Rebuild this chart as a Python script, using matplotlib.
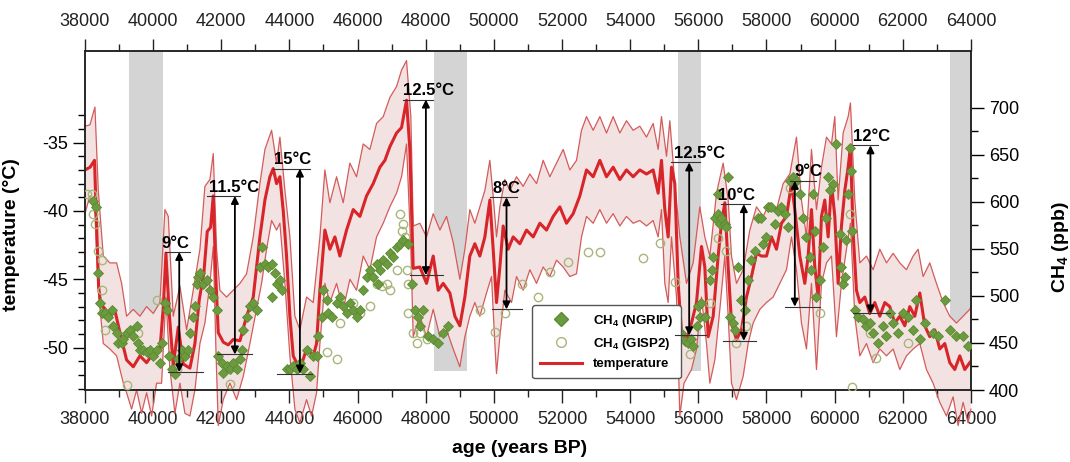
import matplotlib.pyplot as plt
from matplotlib.lines import Line2D
from matplotlib.ticker import MultipleLocator, FixedLocator

plt.rcParams['font.family'] = ['Liberation Sans', 'DejaVu Sans']
plt.rcParams['mathtext.fontset'] = 'custom'
plt.rcParams['mathtext.rm'] = 'Liberation Sans'
plt.rcParams['mathtext.bf'] = 'Liberation Sans:bold'
plt.rcParams['axes.unicode_minus'] = False

# temperature reconstruction (thick red)
temp_age = [38000, 38150, 38280, 38340, 38400, 38460, 38600, 38733, 38880, 39027,
            39222, 39418, 39613, 39809, 40005, 40200, 40300, 40376, 40474, 40591,
            40738, 40885, 41080, 41227, 41354, 41491, 41589, 41687, 41765, 41843,
            41912, 42059, 42205, 42352, 42548, 42743, 42939, 43134, 43281, 43427,
            43525, 43623, 43721, 43819, 43916, 44014, 44112, 44308, 44503, 44699,
            44797, 44895, 45041, 45188, 45335, 45481, 45677, 45873, 46068, 46264,
            46459, 46655, 46802, 46948, 47144, 47291, 47437, 47535, 47633, 47829,
            48024, 48220, 48367, 48513, 48709, 48855, 49002, 49149, 49295, 49442,
            49589, 49736, 49882, 49980, 50078, 50176, 50273, 50420, 50567, 50763,
            50958, 51154, 51350, 51545, 51741, 51936, 52132, 52327, 52523, 52719,
            52914, 53110, 53305, 53501, 53697, 53892, 54088, 54283, 54479, 54674,
            54821, 54919, 55017, 55115, 55213, 55310, 55409, 55507, 55653, 55800,
            55947, 56093, 56191, 56289, 56436, 56582, 56680, 56778, 56876, 56974,
            57120, 57267, 57414, 57560, 57707, 57854, 58001, 58147, 58294, 58441,
            58587, 58734, 58832, 58979, 59125, 59223, 59321, 59419, 59517, 59614,
            59712, 59810, 59908, 60005, 60103, 60201, 60299, 60397, 60465, 60543,
            60641, 60739, 60886, 61032, 61179, 61326, 61473, 61619, 61766, 61913,
            62059, 62206, 62353, 62500, 62646, 62793, 62940, 63086, 63233, 63380,
            63526, 63673, 63819, 63966, 64000]
temp_val = [-37.0, -36.8, -36.3, -41.0, -45.5, -46.8, -47.2, -47.7, -47.3, -48.9,
            -50.9, -51.4, -50.6, -51.1, -50.4, -50.2, -47.0, -43.1, -47.5, -51.3,
            -48.5, -51.2, -51.5, -49.7, -46.5, -44.5, -41.5, -41.2, -38.9, -45.0,
            -48.9, -49.6, -49.8, -49.4, -49.5, -47.7, -46.3, -41.9, -39.2, -37.5,
            -36.9, -38.0, -37.5, -40.0, -43.3, -47.7, -50.6, -51.6, -50.1, -50.6,
            -49.7, -45.8, -41.4, -42.8, -41.9, -43.3, -41.4, -39.9, -40.4, -38.9,
            -38.0, -36.8, -36.3, -35.3, -34.3, -33.9, -31.9, -35.5, -44.2, -44.1,
            -45.3, -43.3, -45.8, -45.3, -46.0, -47.7, -48.4, -46.3, -43.3, -42.4,
            -43.3, -41.9, -39.2, -42.8, -46.7, -44.1, -41.1, -42.8, -41.9, -42.4,
            -41.4, -41.9, -40.9, -41.4, -40.4, -39.7, -40.9, -40.2, -38.9, -37.0,
            -37.5, -36.3, -37.5, -36.8, -37.7, -37.0, -37.5, -37.0, -37.3, -37.0,
            -38.7, -36.3, -39.9, -41.9, -36.8, -38.0, -45.3, -48.9, -49.4, -48.2,
            -46.7, -42.6, -44.1, -49.2, -47.7, -43.3, -40.9, -39.4, -44.1, -48.2,
            -49.4, -48.7, -46.3, -44.8, -43.1, -43.3, -43.3, -41.9, -42.8, -40.9,
            -40.4, -38.0, -39.9, -43.3, -45.3, -43.3, -39.9, -44.1, -46.3, -40.4,
            -39.2, -41.9, -38.0, -40.4, -45.3, -41.1, -38.5, -36.8, -35.3, -41.6,
            -45.8, -46.7, -46.3, -47.5, -46.7, -47.7, -46.7, -47.0, -48.2, -47.7,
            -48.4, -47.0, -47.7, -46.0, -48.4, -49.2, -48.7, -50.1, -49.7, -51.1,
            -51.6, -50.6, -51.6, -51.1, -51.0]

# uncertainty envelope
upper_age = [38000, 38146, 38293, 38391, 38538, 38733, 38929, 39076, 39222, 39418,
             39613, 39809, 40005, 40200, 40347, 40445, 40591, 40787, 40983, 41178,
             41374, 41520, 41667, 41765, 41863, 41960, 42156, 42352, 42548, 42743,
             42939, 43134, 43281, 43477, 43623, 43721, 43868, 44014, 44161, 44308,
             44503, 44699, 44895, 45041, 45188, 45384, 45579, 45775, 45970, 46166,
             46362, 46557, 46753, 46948, 47144, 47291, 47437, 47564, 47633, 47829,
             48024, 48220, 48416, 48611, 48807, 49002, 49149, 49295, 49442, 49589,
             49736, 49882, 49980, 50078, 50176, 50323, 50469, 50665, 50860, 51056,
             51252, 51447, 51643, 51839, 52034, 52229, 52425, 52572, 52719, 52914,
             53110, 53305, 53501, 53697, 53892, 54088, 54283, 54479, 54674, 54821,
             54919, 55067, 55164, 55311, 55458, 55653, 55849, 56044, 56191, 56338,
             56534, 56729, 56876, 56974, 57120, 57316, 57511, 57707, 57903, 58098,
             58294, 58490, 58685, 58881, 59027, 59174, 59321, 59468, 59614, 59761,
             59908, 60005, 60103, 60250, 60397, 60465, 60592, 60739, 60935, 61130,
             61326, 61522, 61717, 61913, 62108, 62304, 62450, 62597, 62793, 62988,
             63184, 63380, 63575, 63771, 63966, 64000]
upper_val = [-33.8, -33.7, -32.4, -38.5, -43.3, -43.8, -43.8, -45.3, -47.7, -47.2,
             -47.7, -47.0, -47.5, -46.7, -39.9, -40.4, -47.7, -45.5, -48.7, -45.8,
             -42.8, -38.2, -37.7, -35.8, -42.8, -45.8, -46.3, -45.8, -45.3, -44.6,
             -41.9, -38.0, -35.5, -34.1, -36.5, -34.6, -38.5, -41.9, -47.7, -48.7,
             -46.3, -46.7, -41.9, -37.0, -39.4, -37.5, -39.4, -36.5, -37.5, -35.1,
             -35.5, -33.6, -33.1, -31.7, -30.9, -29.7, -29.0, -33.1, -41.1, -40.9,
             -41.9, -40.2, -41.4, -40.4, -42.3, -45.0, -42.8, -39.9, -40.9, -39.7,
             -38.5, -36.3, -38.9, -41.9, -39.7, -37.7, -38.5, -37.5, -38.2, -37.3,
             -38.0, -36.3, -37.5, -36.5, -35.5, -37.0, -36.3, -34.1, -33.1, -34.1,
             -33.1, -34.3, -33.1, -34.3, -33.4, -34.1, -33.8, -34.6, -33.6, -35.5,
             -33.1, -36.0, -33.4, -38.0, -41.9, -45.3, -43.8, -39.7, -41.9, -43.3,
             -38.7, -36.5, -39.2, -43.3, -45.3, -44.3, -41.4, -39.7, -40.4, -39.4,
             -39.9, -38.0, -37.3, -34.6, -39.2, -41.9, -35.5, -39.9, -36.8, -34.6,
             -35.1, -33.1, -39.2, -34.3, -33.1, -32.1, -39.2, -43.8, -43.3, -44.3,
             -42.8, -43.8, -43.1, -43.8, -44.3, -43.3, -42.8, -44.8, -43.8, -45.3,
             -46.7, -47.7, -48.2, -47.7, -47.2, -47.0]
lower_age = [38000, 38146, 38293, 38391, 38538, 38733, 38929, 39125, 39222, 39369,
             39516, 39662, 39809, 39956, 40102, 40249, 40376, 40494, 40640, 40787,
             40934, 41080, 41227, 41374, 41520, 41667, 41765, 41843, 41912, 42059,
             42254, 42450, 42645, 42841, 43036, 43183, 43330, 43477, 43623, 43721,
             43868, 44014, 44161, 44308, 44503, 44650, 44797, 44895, 45041, 45188,
             45384, 45579, 45775, 45970, 46166, 46362, 46557, 46753, 46948, 47144,
             47291, 47437, 47564, 47633, 47829, 48024, 48220, 48416, 48611, 48807,
             49002, 49149, 49295, 49442, 49589, 49785, 49931, 50029, 50078, 50176,
             50323, 50518, 50665, 50860, 51056, 51252, 51447, 51643, 51839, 52034,
             52229, 52425, 52572, 52719, 52914, 53110, 53305, 53501, 53697, 53892,
             54088, 54283, 54479, 54674, 54821, 54919, 55017, 55115, 55213, 55360,
             55458, 55580, 55800, 55947, 56093, 56240, 56338, 56485, 56632, 56778,
             56876, 56974, 57120, 57316, 57463, 57609, 57805, 58001, 58196, 58392,
             58587, 58734, 58881, 59027, 59174, 59321, 59468, 59614, 59761, 59908,
             60054, 60201, 60348, 60465, 60592, 60739, 60935, 61130, 61326, 61522,
             61717, 61913, 62108, 62304, 62500, 62695, 62890, 63086, 63282, 63477,
             63624, 63771, 63917, 64000]
lower_val = [-40.2, -38.9, -40.2, -45.8, -49.7, -50.1, -50.6, -52.6, -53.3, -54.5,
             -53.1, -54.8, -53.3, -55.0, -52.6, -52.6, -46.3, -51.6, -54.8, -52.6,
             -54.8, -55.0, -53.1, -49.7, -48.2, -45.3, -42.6, -50.1, -55.7, -53.8,
             -52.6, -53.8, -52.1, -49.7, -47.2, -45.3, -42.8, -40.7, -41.4, -40.9,
             -45.3, -50.6, -54.5, -55.5, -53.8, -55.0, -53.3, -49.7, -45.3, -46.7,
             -45.3, -47.2, -45.0, -45.8, -43.3, -44.3, -41.9, -40.9, -39.7, -38.7,
             -37.5, -35.1, -42.8, -49.2, -47.7, -49.2, -47.2, -49.2, -48.7, -50.1,
             -51.4, -49.2, -47.7, -46.7, -47.7, -46.0, -44.8, -49.7, -51.9, -49.2,
             -45.8, -46.7, -44.8, -45.8, -44.3, -45.3, -44.1, -44.8, -43.6, -44.1,
             -44.8, -44.6, -41.9, -40.4, -40.9, -39.9, -40.9, -40.2, -41.1, -40.4,
             -40.9, -40.7, -41.1, -40.7, -41.9, -39.9, -45.3, -46.7, -41.9, -46.3,
             -55.0, -52.6, -51.6, -50.1, -46.3, -49.7, -52.6, -50.9, -47.2, -43.3,
             -47.7, -52.6, -53.8, -52.1, -49.7, -48.2, -47.2, -46.7, -46.3, -45.3,
             -44.3, -41.9, -44.3, -48.2, -50.1, -45.3, -51.6, -45.3, -43.8, -43.3,
             -49.2, -45.3, -42.8, -40.9, -47.7, -50.6, -49.7, -51.1, -50.1, -50.6,
             -50.1, -51.6, -50.6, -50.1, -49.7, -51.6, -52.6, -54.0, -55.0, -53.6,
             -55.7, -54.0, -55.5, -54.5]

# CH4 NGRIP (filled diamonds)
ngrip_age = [38244, 38322, 38391, 38440, 38489, 38587, 38684, 38782, 38831, 38929,
             38978, 39076, 39125, 39222, 39320, 39418, 39516, 39564, 39613, 39711,
             39809, 39907, 40005, 40102, 40200, 40249, 40347, 40415, 40474, 40542,
             40640, 40738, 40836, 40934, 41032, 41080, 41178, 41227, 41276, 41325,
             41374, 41471, 41569, 41667, 41765, 41863, 41912, 42010, 42059, 42156,
             42254, 42352, 42450, 42548, 42597, 42645, 42743, 42841, 42939, 43036,
             43134, 43183, 43281, 43380, 43477, 43575, 43623, 43721, 43770, 43477,
             43916, 44014, 44112, 44210, 44308, 44406, 44503, 44601, 44699, 44797,
             44846, 44944, 44993, 45090, 45139, 45237, 45384, 45481, 45579, 45677,
             45775, 45873, 45970, 46068, 46166, 46264, 46362, 46459, 46557, 46606,
             46655, 46753, 46851, 46948, 47046, 47144, 47242, 47340, 47486, 47584,
             47682, 47780, 47829, 47926, 48073, 48220, 48366, 48513, 48660,
             55458, 55506, 55605, 55702, 55800, 55849, 55947, 55996, 56045, 56093,
             56191, 56338, 56387, 56436, 56485, 56582, 56582, 56632, 56680, 56778,
             56827, 56876, 56925, 57022, 57071, 57169, 57267, 57365, 57463, 57560,
             57658, 57756, 57854, 57903, 58001, 58049, 58147, 58245, 58343, 58441,
             58538, 58636, 58685, 58783, 58881, 58979, 59076, 59174, 59272, 59321,
             59370, 59419, 59468, 59565, 59663, 59761, 59810, 59858, 59956, 60054,
             60152, 60201, 60250, 60299, 60348, 60397, 60446, 60494, 60524, 60592,
             60690, 60837, 60935, 61032, 61130, 61277, 61424, 61522, 61619, 61717,
             61864, 62010, 62157, 62304, 62401, 62500, 62646, 62890, 63037, 63233,
             63380, 63575, 63771, 63917]
ngrip_ch4 = [601, 594, 524, 492, 482, 482, 478, 485, 468, 461,
             450, 450, 454, 461, 464, 457, 468, 450, 443, 443,
             440, 443, 436, 443, 429, 450, 492, 485, 436, 422,
             417, 433, 443, 436, 443, 461, 478, 489, 513, 520,
             524, 513, 517, 506, 499, 485, 436, 429, 418, 425,
             422, 429, 422, 433, 443, 464, 478, 489, 492, 485,
             531, 552, 534, 531, 534, 524, 513, 517, 506, 499,
             422, 422, 425, 422, 429, 422, 443, 415, 436, 436,
             457, 478, 506, 496, 482, 478, 492, 499, 489, 482,
             492, 485, 478, 485, 506, 520, 527, 520, 534, 513,
             527, 538, 534, 545, 541, 552, 555, 559, 555, 513,
             485, 478, 468, 485, 457, 454, 450, 461, 468,
             461, 461, 452, 450, 454, 447, 468, 489, 478, 492,
             478, 517, 527, 541, 583, 587, 608, 576, 583, 576,
             573, 626, 478, 471, 464, 531, 496, 485, 517, 538,
             548, 583, 583, 555, 562, 594, 594, 576, 590, 594,
             587, 573, 622, 626, 622, 608, 583, 562, 541, 527,
             608, 569, 499, 517, 552, 583, 626, 612, 619, 661,
             566, 531, 513, 520, 559, 608, 657, 633, 569, 485,
             478, 475, 468, 471, 461, 450, 468, 457, 482, 471,
             461, 482, 478, 464, 496, 454, 471, 461, 457, 496,
             464, 457, 457, 447]

# CH4 GISP2 (open circles)
gisp2_age = [38049, 38195, 38244, 38293, 38391, 38489, 38489, 38587, 39222, 39564,
             40102, 40689, 42250, 45090, 45384, 45481, 45873, 46068, 46362, 46557,
             46704, 46851, 46948, 47144, 47242, 47291, 47340, 47389, 47437, 47486,
             47486, 47633, 47730, 47829, 48024, 49589, 50029, 50323, 50812, 51301,
             51643, 52181, 52768, 53110, 54381, 54870, 55310, 55750, 56338, 56582,
             56827, 57120, 57414, 58685, 59565, 60446, 60500, 61032, 61228, 62157]
gisp2_ch4 = [608, 608, 587, 576, 548, 538, 506, 464, 405, 461,
             496, 422, 406, 440, 433, 471, 492, 482, 489, 513,
             510, 513, 506, 527, 587, 569, 576, 562, 527, 513,
             482, 461, 450, 461, 454, 485, 462, 482, 513, 499,
             525, 536, 547, 547, 540, 556, 515, 438, 492, 561,
             548, 450, 468, 615, 482, 587, 403, 461, 434, 450]

# stadial bands
band_start = [39300, 48240, 55400, 63400]
band_end = [40300, 49200, 56070, 64000]

# warming amplitudes
arrow_age = [40767, 42400, 44308, 48005, 50371, 55732, 57336, 58832, 61052]
arrow_top = [-43.0, -38.9, -36.9, -31.85, -39.0, -36.45, -39.5, -37.8, -35.2]
arrow_bottom = [-51.8, -50.5, -51.9, -44.7, -47.2, -49.1, -49.5, -47.0, -47.5]
top_from = [40347, 41569, 43525, 47340, 49882, 55213, 56680, 58685, 60543]
top_to = [41080, 42548, 44600, 48220, 50665, 56045, 57511, 59468, 61277]
bottom_from = [40445, 41863, 43623, 47535, 49931, 55311, 56729, 58538, 60543]
bottom_to = [41471, 42890, 44650, 48513, 50812, 56240, 57707, 59565, 61619]
label_age = [40640, 42371, 44083, 48093, 50371, 56045, 57120, 59223, 61081]
arrow_label = ['9°C', '11.5°C', '15°C', '12.5°C', '8°C', '12.5°C', '10°C', '9°C', '12°C']

red = '#d8252a'
env = '#d45b5b'
fill = '#f3e2e2'
green = '#6c9a3e'
olive = '#a8b67a'

fig = plt.figure(figsize=(10.7, 4.62), dpi=100)
ax = fig.add_axes([0.0794, 0.1558, 0.828, 0.7338])
ax2 = ax.twinx()

for a, b in zip(band_start, band_end):
    ax.axvspan(a, b, ymin=0.056, ymax=1, color='#d4d4d4', lw=0, zorder=0)

ax.fill(upper_age + lower_age[::-1], upper_val + lower_val[::-1],
        color=fill, lw=0, zorder=1, clip_on=False)
ax.plot(upper_age, upper_val, color=env, lw=0.9, zorder=2, clip_on=False)
ax.plot(lower_age, lower_val, color=env, lw=0.9, zorder=2, clip_on=False)
ax.plot(temp_age, temp_val, color=red, lw=2.2, zorder=3)

ax2.plot(gisp2_age, gisp2_ch4, 'o', ms=6, mfc='none', mec=olive, mew=1.0, zorder=4)
ax2.plot(ngrip_age, ngrip_ch4, 'D', ms=5.5, mfc=green, mec='#5b8a32', mew=0.6, zorder=5)

for i in range(len(arrow_age)):
    ax2.plot([top_from[i], top_to[i]], [arrow_top[i]] * 2, color='#333333',
             lw=0.8, transform=ax.transData, zorder=6)
    ax2.plot([bottom_from[i], bottom_to[i]], [arrow_bottom[i]] * 2, color='#333333',
             lw=0.8, transform=ax.transData, zorder=6)
    ax2.annotate('', xy=(arrow_age[i], arrow_bottom[i]), xytext=(arrow_age[i], arrow_top[i]),
                 xycoords=ax.transData, textcoords=ax.transData,
                 arrowprops=dict(arrowstyle='<|-|>', color='black', lw=1.3,
                                 mutation_scale=11, shrinkA=0, shrinkB=0), zorder=7)
    ax2.annotate(arrow_label[i], xy=(label_age[i], arrow_top[i]), xycoords=ax.transData,
                 xytext=(0, 1), textcoords='offset points', ha='center', va='bottom',
                 fontsize=12, fontweight='bold', zorder=8)

ax.set_xlim(38000, 64000)
ax.set_ylim(-53.1, -28.3)
ax2.set_ylim(400, 760)

ax.xaxis.set_major_locator(MultipleLocator(2000))
ax.xaxis.set_minor_locator(MultipleLocator(1000))
ax.yaxis.set_major_locator(FixedLocator([-50, -45, -40, -35]))
ax.yaxis.set_minor_locator(FixedLocator(list(range(-53, -32))))
ax2.yaxis.set_major_locator(FixedLocator([400, 450, 500, 550, 600, 650, 700]))
ax2.yaxis.set_minor_locator(FixedLocator([425, 475, 525, 575, 625, 675]))

ax.tick_params(axis='x', which='both', top=True, labeltop=True, direction='out',
               labelsize=13, pad=6, colors='#222222')
ax.tick_params(axis='x', which='major', length=9, width=1)
ax.tick_params(axis='x', which='minor', length=5, width=1)
ax.tick_params(axis='y', which='major', length=9, width=1, labelsize=13, pad=3)
ax.tick_params(axis='y', which='minor', length=5, width=1)
ax2.tick_params(axis='y', which='major', length=9, width=1, labelsize=13, pad=4)
ax2.tick_params(axis='y', which='minor', length=5, width=1)

for a in (ax, ax2):
    for s in a.spines.values():
        s.set_linewidth(1.1)
        s.set_color('#222222')

ax.set_xlabel('age (years BP)', fontsize=14, fontweight='bold')
ax.xaxis.set_label_coords(0.49, -0.148)
ax.set_ylabel('temperature (°C)', fontsize=14, fontweight='bold')
ax.yaxis.set_label_coords(-0.073, 0.46)
ax2.set_ylabel(r'CH$_{\mathbf{4}}$ (ppb)', fontsize=14, fontweight='bold')
ax2.yaxis.set_label_coords(1.089, 0.42)

handles = [Line2D([], [], marker='D', ls='none', ms=7, mfc=green, mec='#5b8a32'),
           Line2D([], [], marker='o', ls='none', ms=7, mfc='none', mec=olive),
           Line2D([], [], color=red, lw=2.2)]
ax2.legend(handles, [r'CH$_{\mathbf{4}}$ (NGRIP)', r'CH$_{\mathbf{4}}$ (GISP2)', 'temperature'],
           loc='lower left', bbox_to_anchor=(0.497, 0.015), fancybox=True,
           edgecolor='#555555', framealpha=1, handlelength=3.2,
           prop={'size': 9.5, 'weight': 'bold'}, borderpad=0.6, labelspacing=0.5)

fig.savefig('out.png', dpi=100)
